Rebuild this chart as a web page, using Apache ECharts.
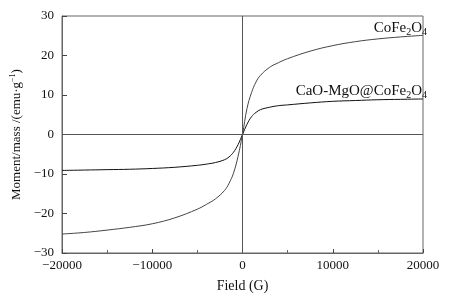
<!DOCTYPE html>
<html>
<head>
<meta charset="utf-8">
<script src="https://cdn.jsdelivr.net/npm/echarts@6/dist/echarts.min.js"></script>
<style>
  html, body { margin: 0; padding: 0; background: #fff; }
  #chart { width: 449px; height: 304px; }
</style>
</head>
<body>
<div id="chart"></div>
<script>
// field values (G)
var field = [-20000, -17500, -15000, -12500, -10000, -7500, -5000, -4000, -3000, -2000, -1500, -1000, -500, 0,
             500, 1000, 1500, 2000, 3000, 4000, 5000, 7500, 10000, 12500, 15000, 17500, 20000];
// moment/mass (emu/g)
var cofe2o4 = [-25.2, -24.8, -24.2, -23.5, -22.6, -21.1, -18.9, -17.7, -16.3, -14.2, -12.4, -9.8, -5.6, 0,
               6.6, 10.6, 13.3, 15.0, 17.0, 18.2, 19.2, 21.1, 22.5, 23.5, 24.2, 24.7, 25.1];
var caoMgo = [-9.1, -9.0, -8.9, -8.8, -8.6, -8.3, -7.8, -7.5, -7.1, -6.4, -5.7, -4.5, -2.6, 0,
              2.6, 4.5, 5.6, 6.3, 6.9, 7.3, 7.5, 8.0, 8.4, 8.6, 8.8, 8.9, 9.0];
var xTicks = [-20000, -10000, 0, 10000, 20000];
var yTicks = [-30, -20, -10, 0, 10, 20, 30];

var font = 'Liberation Serif';
var richText = {
    a: { fontFamily: font, fontSize: 15, color: '#111' },
    s: { fontFamily: font, fontSize: 10, color: '#111', verticalAlign: 'bottom', padding: [8, 0, 0, 0] }
};

function pairs(ys) {
    var out = [];
    for (var i = 0; i < field.length; i++) out.push([field[i], ys[i]]);
    return out;
}

function minus(v) { return v < 0 ? '\u2212' + (-v) : '' + v; }

var chart = echarts.init(document.getElementById('chart'));
var option = {
    animation: false,
    grid: { left: 62, right: 26, top: 16, bottom: 51, show: true, borderColor: '#666', borderWidth: 1 },
    xAxis: {
        type: 'value',
        min: xTicks[0], max: xTicks[xTicks.length - 1], interval: 10000,
        name: 'Field (G)', nameLocation: 'middle', nameGap: 26,
        nameTextStyle: { fontFamily: font, fontSize: 14, color: '#111' },
        axisLine: { onZero: false, lineStyle: { color: '#666' } },
        axisTick: { inside: true, length: 4, lineStyle: { color: '#444' } },
        minorTick: { show: true, splitNumber: 2, length: 3, lineStyle: { color: '#666' } },
        axisLabel: { fontFamily: font, fontSize: 13, color: '#111', margin: 6, formatter: minus },
        splitLine: { show: false }
    },
    yAxis: {
        type: 'value',
        min: yTicks[0], max: yTicks[yTicks.length - 1], interval: 10,
        name: 'Moment/mass /(emu·g{sup|\u22121})', nameLocation: 'middle', nameGap: 29,
        nameTextStyle: { fontFamily: font, fontSize: 13, color: '#111',
            rich: { sup: { fontFamily: font, fontSize: 8, color: '#111', verticalAlign: 'top', padding: [0, 0, 6, 0] } } },
        axisLine: { onZero: false, lineStyle: { color: '#666' } },
        axisTick: { inside: true, length: 5, lineStyle: { color: '#444' } },
        axisLabel: { fontFamily: font, fontSize: 13, color: '#111', margin: 8, formatter: minus },
        splitLine: { show: false }
    },
    series: [
        {
            name: 'CoFe2O4', type: 'line', smooth: 0.4, showSymbol: false, symbol: 'none',
            lineStyle: { color: '#444', width: 1 },
            data: pairs(cofe2o4),
            endLabel: { show: true, align: 'right', verticalAlign: 'bottom', offset: [-4, 2],
                formatter: '{a|CoFe}{s|2}{a|O}{s|4}', rich: richText },
            markLine: {
                silent: true, symbol: 'none', label: { show: false },
                lineStyle: { color: '#555', width: 1, type: 'solid' },
                data: [{ xAxis: 0 }, { yAxis: 0 }]
            }
        },
        {
            name: 'CaO-MgO@CoFe2O4', type: 'line', smooth: 0.4, showSymbol: false, symbol: 'none',
            lineStyle: { color: '#111', width: 1 },
            data: pairs(caoMgo),
            endLabel: { show: true, align: 'right', verticalAlign: 'bottom', offset: [-4, 1],
                formatter: '{a|CaO-MgO@CoFe}{s|2}{a|O}{s|4}', rich: richText }
        }
    ]
};
chart.setOption(option);
</script>
</body>
</html>
